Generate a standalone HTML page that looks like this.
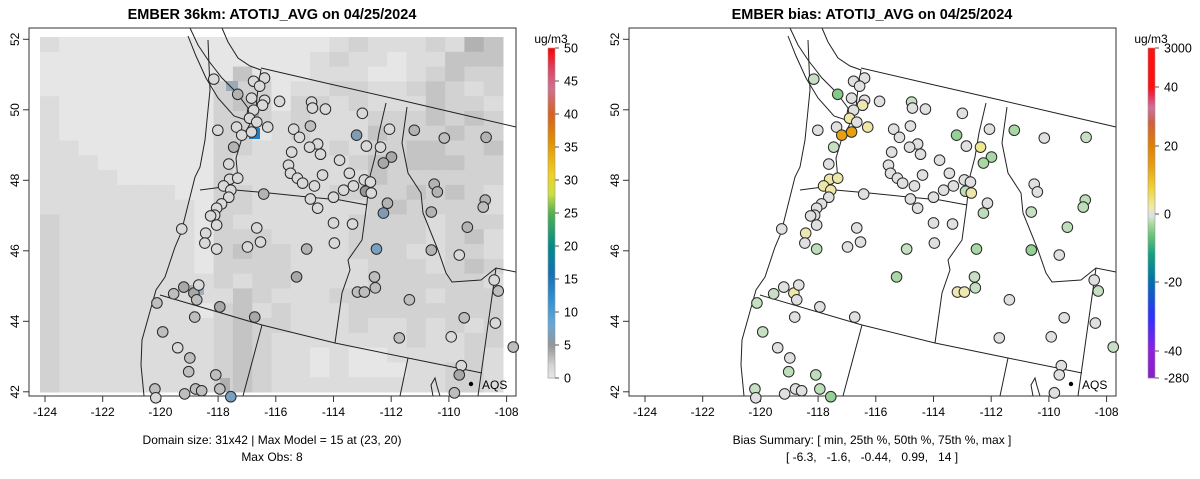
<!DOCTYPE html>
<html><head><meta charset="utf-8">
<style>
html,body{margin:0;padding:0;background:#fff;}
svg{display:block;font-family:"Liberation Sans",Arial,sans-serif;}
</style></head>
<body>
<svg id="chart" width="1200" height="479" viewBox="0 0 1200 479" xmlns="http://www.w3.org/2000/svg">
<g id="left"></g>
<g id="right"></g>
</svg>
<script>
// ---- data ----
const stationLon = [-118.15,-117.32,-116.77,-116.39,-116.56,-116.84,-116.39,-116.46,-115.87,-116.77,-116.91,-116.66,-116.28,-117.36,-117.18,-116.84,-118.01,-117.46,-114.76,-114.73,-114.28,-113.0,-114.80,-115.38,-115.18,-113.20,-112.06,-111.20,-110.16,-108.71,-114.55,-114.83,-115.45,-114.45,-113.79,-112.86,-112.37,-111.99,-112.27,-115.56,-115.49,-115.25,-115.07,-114.38,-113.45,-114.66,-113.31,-113.65,-112.93,-112.72,-112.89,-112.69,-114.0,-114.80,-114.55,-112.13,-112.27,-110.51,-110.40,-110.61,-108.74,-108.81,-117.63,-117.60,-117.32,-117.81,-117.56,-117.63,-116.42,-117.88,-118.05,-118.12,-118.26,-118.05,-119.26,-118.43,-116.66,-114.0,-113.34,-109.36,-118.46,-118.05,-116.98,-116.53,-114.93,-113.97,-112.51,-110.61,-109.64,-115.28,-112.58,-112.55,-113.17,-112.93,-111.37,-108.43,-108.29,-109.47,-108.39,-111.72,-109.92,-107.77,-119.19,-119.54,-118.84,-118.74,-118.67,-120.12,-117.94,-116.73,-118.81,-119.92,-119.40,-118.98,-119.02,-118.08,-117.56,-120.19,-120.16,-119.16,-118.78,-118.57,-117.94,-109.57,-109.64,-109.81];
const stationLat = [50.87,50.44,50.81,50.90,50.67,50.33,50.27,50.13,50.24,49.99,49.76,49.65,49.51,49.51,49.28,49.37,49.42,48.94,50.22,50.05,50.02,49.90,49.54,49.45,49.22,49.28,49.45,49.42,49.20,49.22,49.03,48.94,48.80,48.74,48.57,48.97,48.94,48.66,48.49,48.43,48.20,48.06,47.92,48.15,48.20,47.84,47.84,47.72,48.01,47.95,47.69,47.64,47.52,47.47,47.21,47.35,47.07,47.89,47.67,47.10,47.44,47.24,48.46,48.03,48.06,47.84,47.72,47.52,47.61,47.33,47.21,47.01,46.99,46.73,46.62,46.50,46.65,46.79,46.76,46.67,46.22,46.05,46.11,46.25,46.05,46.22,46.05,46.02,45.88,45.26,45.26,44.95,44.83,44.83,44.61,45.17,44.86,44.10,43.95,43.53,43.56,43.27,44.97,44.78,44.80,44.61,45.03,44.52,44.41,44.12,44.12,43.70,43.25,42.96,42.57,42.48,41.86,42.08,41.83,41.94,42.08,42.03,42.08,42.74,42.48,41.97];
const obsValue = [1.5,3.5,1.5,1.5,1.5,1.5,1.5,1.5,1.5,1.5,1.5,1.5,1.5,1.5,1.5,1.5,1.5,3.5,1.5,1.5,1.5,1.5,3,1.5,1.5,6.5,1.5,3.5,3,3.5,1.5,1.5,1.5,1.5,1.5,1.5,1.5,4,4,1.5,1.5,1.5,1.5,1.5,1.5,1.5,1.5,1.5,1.5,1.5,5,1.5,1.5,1.5,1.5,3.5,6.5,3.5,3.5,3.5,3.5,3,1.5,1.5,1.5,1.5,1.5,1.5,3.5,1.5,1.5,1.5,1.5,1.5,1.5,1.5,1.5,1.5,1.5,3.5,1.5,1.5,1.5,1.5,3.5,1.5,7,3.5,1.5,4,3,3,3,3,3,1.5,3,3,1.5,3,1.5,3,4,3,4,3,1.5,3,4,4,3,3,1.5,3,3,3,7,3,1.5,3,3,3,3,1.5,4,3];
const biasValue = [-1.5,-5,-0.4,-0.4,-0.4,-0.4,-0.4,1.5,-0.4,-0.4,2,-0.4,2,-0.4,14,14,-0.4,-1.5,-1.5,-0.4,-0.4,-0.4,-0.4,-0.4,-0.4,-4,-0.4,-3,-0.4,-1.5,-0.4,-0.4,-0.4,-0.4,-0.4,-0.4,3,-3,-3,-0.4,-0.4,-0.4,-0.4,-0.4,-0.4,-0.4,-0.4,-0.4,-0.4,-0.4,-2,2,-0.4,-0.4,-0.4,-0.4,-2,-0.4,-0.4,-1.5,-2,-2,-0.4,2,2,2,2,-0.4,-0.4,-0.4,-0.4,-0.4,-0.4,-0.4,-0.4,1.5,-0.4,-0.4,-0.4,-2,-0.4,-2,-0.4,-0.4,-1.5,-0.4,-3,-4,-0.4,-3,-1.5,-1.5,1.5,1.5,-0.4,-0.4,-1.5,-0.4,-0.4,-0.4,-0.4,-1.5,-0.4,-1.5,2,-0.4,-0.4,-1.5,-0.4,-0.4,-0.4,-1.5,-0.4,-0.4,-2,-2,-4,-1.5,-0.4,-0.4,-0.4,-0.4,-2,-0.4,-0.4,-0.4];
const xTicks = [-124,-122,-120,-118,-116,-114,-112,-110,-108];
const yTicks = [42,44,46,48,50,52];
const obsBarTicks = [0,5,10,15,20,25,30,35,40,45,50];
const biasBarTicks = [3000,40,20,0,-20,-40,-280];
const modelRows = [
"baaaaaaaaaaaaaabcbbbcbed","aaaaaaaaaaaaaabcbbabbddd","aaaaaaaaaadaaabbbaabcdcc","aaaaaaaaacccabbccbbcdcbc",
"baaaaaaaacdcaccbcbbbdccb","baaaaaaaacccbcbbbcccdcdc","baaaaaaaaccabcbbbdcccdcc","bbaaaaaaaccbbbbcbccddccd",
"bbbaaaaaacbbbbbbcdcdddcc","bbbbaaaaacbbbbbbbdcccccc","bbbbbbbaaccbbbbccccdcdcb","bbbbbbbbaccbbbbbbcdccccb",
"cbbbbbbbacbbbbbbccccbccc","cbbbbbbbacccbbbbccccbcdb","cbbbbbbbacdccbbbcccbbccb","cbbbbbbbaccccbbbbcccbcdc",
"cbbbbbbbbcbccbbbbccccccb","cbbbbbbbbbdcbbbcccccbccc","cbbbbbbbacdbcbbbcccccccc","cbbbbbbbbcdccbbbcbbcbcbc",
"cbbbbbbbbcdcbbbbbbbcbbcc","cbbbbbbbbcdcbbabaabbbbcb","cbbbbbbbbcdcbbabaaabbccb","cbbbbbbbbcdcbbbbbbbbbccb"];
const modelShade = {a:"#e6e6e6",b:"#dcdcdc",c:"#d2d2d2",d:"#c4c4c4",e:"#b2b2b2"};

// ---- helpers ----
const NS="http://www.w3.org/2000/svg";
function mk(tag,attrs,parent){const e=document.createElementNS(NS,tag);for(const k in attrs)e.setAttribute(k,attrs[k]);parent.appendChild(e);return e;}
const X0=29,X1=516,Y0=28,Y1=396;
function xScale(lon){return 45+(lon+124)*28.85;}
function yScale(lat){return 391.8-(lat-42)*35.25;}
function hex(c){return [parseInt(c.slice(1,3),16),parseInt(c.slice(3,5),16),parseInt(c.slice(5,7),16)];}
function lerpStops(stops,v){
  if(v<=stops[0][0])return stops[0][1];
  for(let i=1;i<stops.length;i++){if(v<=stops[i][0]){const a=stops[i-1],b=stops[i];const t=(v-a[0])/(b[0]-a[0]);const ca=hex(a[1]),cb=hex(b[1]);return "rgb("+ca.map((x,j)=>Math.round(x+(cb[j]-x)*t)).join(",")+")";}}
  return stops[stops.length-1][1];
}
const obsStops=[[0,"#e8e8e8"],[2,"#d4d4d4"],[4,"#a8a8a8"],[5,"#969696"],[6.5,"#7f9cb4"],[8,"#6aa8d8"],[12,"#3090d0"],[16,"#1570b0"],[20,"#008b8b"],[25,"#50b050"],[28,"#d0e040"],[31,"#f0d020"],[36,"#e09000"],[40,"#d86020"],[44,"#d07090"],[47,"#e04060"],[50,"#ff0000"]];
function obsColor(v){return lerpStops(obsStops,v);}
const biasStops=[[-280,"#602080"],[-40,"#9020e0"],[-30,"#3030ff"],[-20,"#0070b0"],[-12,"#10a080"],[-6,"#70c478"],[-3,"#a8d8a4"],[-1,"#d0e4cc"],[-0.99,"#e0e0e0"],[0.99,"#e0e0e0"],[1,"#ece6c0"],[3,"#f0e890"],[8,"#f0d030"],[14,"#e8a010"],[20,"#e08000"],[28,"#d06040"],[33,"#d070a0"],[38,"#f02040"],[40,"#ff1010"],[3000,"#a01818"]];
function biasColor(v){return lerpStops(biasStops,v);}

function drawAxes(g,off,title,sub1,sub2,nameP){
  mk("text",{x:off+272,y:19,"text-anchor":"middle","font-size":"14.5","font-weight":"bold",},g).textContent=title;
  mk("rect",{x:off+X0,y:Y0,width:X1-X0,height:Y1-Y0,fill:"none",stroke:"#333","stroke-width":1,},g);
  xTicks.forEach(t=>{const x=off+xScale(t);
    const l=mk("line",{x1:x,y1:Y1,x2:x,y2:Y1+6,stroke:"#333"},g);
    
    
    const tx=mk("text",{x:x,y:Y1+20,"text-anchor":"middle","font-size":"12"},g);
    
    
    tx.textContent=t;});
  yTicks.forEach(t=>{const y=yScale(t);
    const l=mk("line",{x1:off+X0,y1:y,x2:off+X0-6,y2:y,stroke:"#333"},g);
    
    
    const tx=mk("text",{x:off+19,y:y,"text-anchor":"middle","font-size":"12",transform:"rotate(-90 "+(off+19)+" "+y+")"},g);
    
    
    tx.textContent=t;});
  mk("text",{x:off+272,y:444,"text-anchor":"middle","font-size":"12",},g).textContent=sub1;
  mk("text",{x:off+272,y:461,"text-anchor":"middle","font-size":"12","style":"white-space:pre",},g).textContent=sub2;
}
function drawMap(g,off){
  const lines=[
   [[190,28],[198,45],[208,60],[222,78],[236,92],[248,108],[246,120],[234,116],[218,98],[206,78],[196,56],[188,36]],
   [[222,28],[228,42],[238,58],[250,66],[261,70],[258,88],[256,108],[250,124],[242,138],[236,158],[238,180]],
   [[208,40],[210,90],[205,140],[200,167],[195,177],[185,217],[181,233],[175,247],[165,277],[156,290],[142,340],[141,365],[144,396]],
   [[261,68],[330,84],[400,100],[460,114],[516,127]],
   [[386,103],[379,133],[375,157],[369,180],[367,203],[362,240],[348,260],[350,270],[342,293],[335,343]],
   [[407,107],[402,143],[408,173],[421,193],[423,213],[438,250],[446,273],[452,282],[481,280],[496,268],[516,272]],
   [[200,190],[223,187],[235,190],[269,193],[308,197],[340,200],[367,205]],
   [[160,295],[262,325],[335,343],[408,358],[482,373]],
   [[262,325],[243,396]],[[408,358],[400,396]],[[496,268],[478,396]],
   [[433,396],[431,385],[435,378],[437,386],[440,396]]];
  lines.forEach(pts=>{const p=mk("polyline",{points:pts.map(q=>(q[0]+off)+","+q[1]).join(" "),fill:"none",stroke:"#222","stroke-width":1},g);
    
    });
}
function drawStations(g,off,vals,colorFn){
  for(let i=0;i<stationLon.length;i++){
    const c=mk("circle",{cx:off+xScale(stationLon[i]),cy:yScale(stationLat[i]),r:5.3,fill:colorFn(vals[i]),stroke:"#2a2a2a","stroke-width":1},g);
    
    
  }
  const d=mk("circle",{cx:off+471,cy:384,r:2.2,fill:"#000"},g);
  
  
  const t=mk("text",{x:off+482,y:389,"font-size":"12"},g);
  
  
  t.textContent="AQS";
}

// ---- left panel ----
const L=document.getElementById("left");
const cw=(503-40)/24, ch=(392-37)/24;
modelRows.forEach((row,r)=>{for(let c=0;c<row.length;c++){
  const e=mk("rect",{x:40+c*cw,y:37+r*ch,width:cw+0.5,height:ch+0.5,fill:modelShade[row[c]]},L);
  
  }});
[[249,128,11,11,"#2080c8"],[226,81,12,10,"#9aaab8"],[249,110,10,10,"#9eb0c0"],[190,285,14,10,"#9fb0c0"],[220,378,10,14,"#b0b0b0"]].forEach(h=>{
  const e=mk("rect",{x:h[0],y:h[1],width:h[2],height:h[3],fill:h[4]},L);
  
  });
drawMap(L,0);
drawAxes(L,0,"EMBER 36km: ATOTIJ_AVG on 04/25/2024","Domain size: 31x42 | Max Model = 15 at (23, 20)","Max Obs: 8","model");
drawStations(L,0,obsValue,obsColor);
// colorbar left
(function(){const top=48,bot=378,x=548,w=7;
  for(let i=0;i<110;i++){const v=i*50/110;const y=bot-(i+1)*(bot-top)/110;
    const e=mk("rect",{x:x,y:y,width:w,height:(bot-top)/110+0.6,fill:obsColor(v+0.2)},L);
    
    }
  mk("rect",{x:x,y:top,width:w,height:bot-top,fill:"none",stroke:"#999","stroke-width":0.6,},L);
  obsBarTicks.forEach(t=>{const y=bot-t*(bot-top)/50;
    const l=mk("line",{x1:x+w,y1:y,x2:x+w+4,y2:y,stroke:"#555"},L);
    
    
    const tx=mk("text",{x:x+w+9,y:y+4.5,"font-size":"12.5"},L);
    
    
    tx.textContent=t;});
  mk("text",{x:x+3,y:top-5,"text-anchor":"middle","font-size":"12",},L).textContent="ug/m3";
})();

// ---- right panel ----
const R=document.getElementById("right");
drawMap(R,600);
drawAxes(R,600,"EMBER bias: ATOTIJ_AVG on 04/25/2024","Bias Summary: [ min, 25th %, 50th %, 75th %, max ]","[ -6.3,   -1.6,   -0.44,   0.99,   14 ]","bias");
drawStations(R,600,biasValue,biasColor);
(function(){const x=1148,w=7;
  const tickY=[48,87,146,214,282,351,378];
  function valAt(y){for(let i=1;i<tickY.length;i++){if(y<=tickY[i]){const t=(y-tickY[i-1])/(tickY[i]-tickY[i-1]);const a=biasBarTicks[i-1],b=biasBarTicks[i];
      if(i===1)return 40+ (1-t)*40; if(i===tickY.length-1)return -40-t*60; return a+(b-a)*t;}}return -280;}
  for(let y=48;y<378;y+=1){
    const e=mk("rect",{x:x,y:y,width:w,height:1.3,fill:biasColor(valAt(y+0.5))},R);
    
    }
  mk("rect",{x:x,y:48,width:w,height:330,fill:"none",stroke:"#999","stroke-width":0.6,},R);
  biasBarTicks.forEach((t,i)=>{const y=tickY[i];
    const l=mk("line",{x1:x+w,y1:y,x2:x+w+4,y2:y,stroke:"#555"},R);
    
    
    const tx=mk("text",{x:x+w+9,y:y+4.5,"font-size":"12.5"},R);
    
    
    tx.textContent=t;});
  mk("text",{x:x+3,y:43,"text-anchor":"middle","font-size":"12",},R).textContent="ug/m3";
})();
</script>
</body></html>
